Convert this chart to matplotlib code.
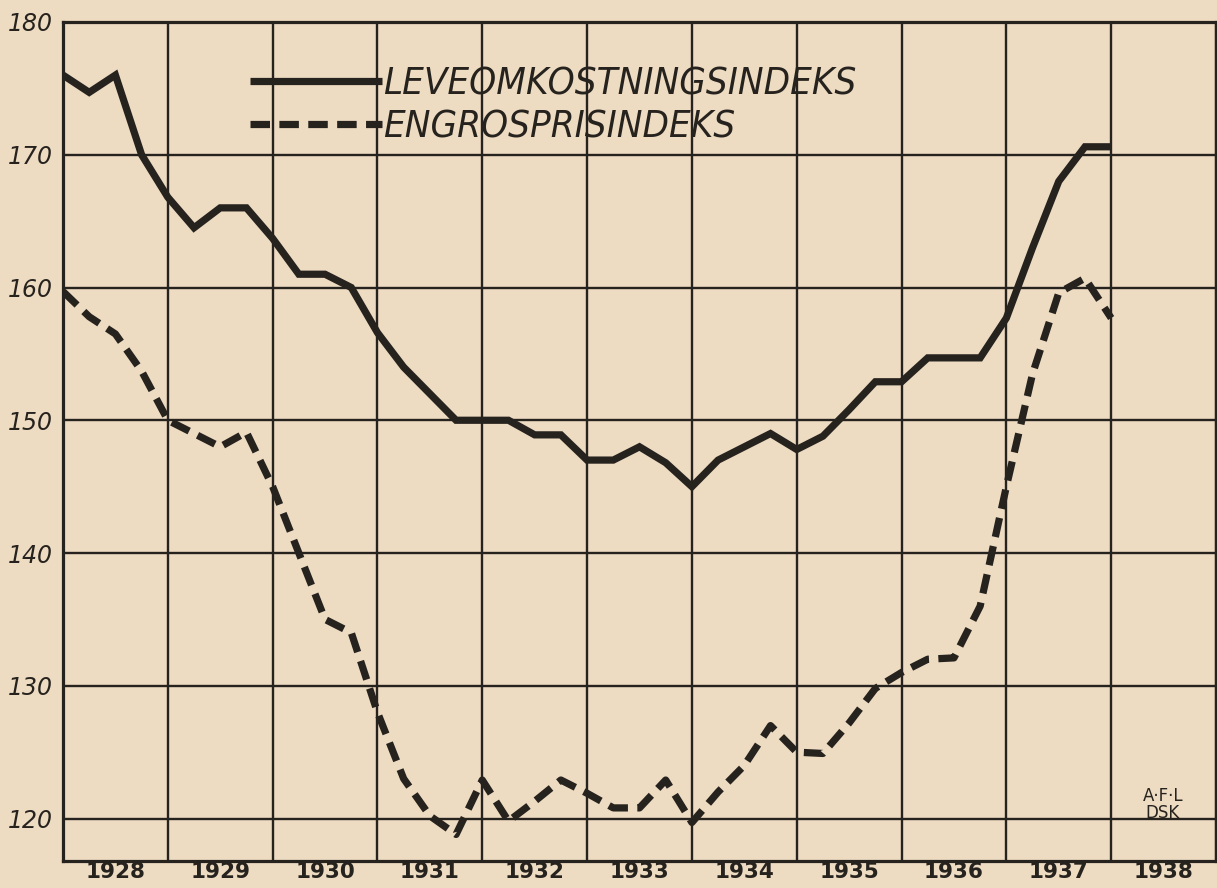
import matplotlib
matplotlib.use("Agg")
import matplotlib.pyplot as plt
import numpy as np

# ---- data ----
years = list(range(1928, 1939))
quarters = np.arange(1928.0, 1938.01, 0.25)  # quarterly observations 1928.0 .. 1938.0
leveomkostning = [176, 174.7, 176, 170, 166.8, 164.5, 166, 166, 163.7, 161, 161, 160,
                  156.6, 154, 152, 150, 150, 150, 148.9, 148.9, 147, 147, 148, 146.8,
                  145, 147, 148, 149, 147.8, 148.8, 150.8, 152.9, 152.9, 154.7, 154.7, 154.7,
                  157.7, 163, 168, 170.6, 170.6]
engros = [159.7, 157.8, 156.5, 153.7, 150, 149, 148, 149.1, 145, 140, 135, 134,
          128, 123, 120.2, 118.8, 122.9, 119.8, 121.3, 122.9, 121.9, 120.8, 120.8, 122.9,
          119.7, 122, 124, 127, 125, 124.9, 127.2, 129.8, 131, 132, 132.1, 136,
          145, 153.5, 159.6, 160.7, 157.7]
yticks = [120, 130, 140, 150, 160, 170, 180]
labels = ["LEVEOMKOSTNINGSINDEKS", "ENGROSPRISINDEKS"]

paper = "#EDDBC2"
ink = "#26221d"

W, H = 1217, 888
fig = plt.figure(figsize=(W / 100, H / 100), dpi=100, facecolor=paper)
ax = fig.add_axes([63 / W, 27 / H, 1153 / W, 839 / H], facecolor=paper)
ax.set_xlim(1928, 1939)
ax.set_ylim(116.8, 180)

# grid
ax.set_xticks(years + [1939])
ax.set_xticklabels([])
ax.set_xticks([y + 0.5 for y in years], minor=True)
ax.set_xticklabels([str(y) for y in years], minor=True,
                   fontsize=15.5, fontweight="bold", color=ink)
ax.set_yticks(yticks)
ax.set_yticklabels([str(v) for v in yticks], fontsize=17, fontstyle="italic", color=ink)
ax.tick_params(which="both", length=0)
ax.tick_params(axis="x", which="minor", pad=0.5)
ax.tick_params(axis="y", pad=7)
ax.grid(True, which="major", color=ink, lw=1.7)
ax.set_axisbelow(True)
for s in ax.spines.values():
    s.set_color(ink)
    s.set_linewidth(2.3)

l1, = ax.plot(quarters, leveomkostning, color=ink, lw=5.2,
              solid_joinstyle="miter", solid_capstyle="butt", label=labels[0])
l2, = ax.plot(quarters, engros, color=ink, lw=5.2, linestyle=(0, (2.7, 1.3)),
              dash_capstyle="butt", label=labels[1])

leg = ax.legend(handles=[l1, l2], loc="upper left", bbox_to_anchor=(0.162, 0.947),
                frameon=False, borderpad=0, borderaxespad=0, handlelength=3.45,
                handletextpad=0.05, labelspacing=0.19,
                prop={"family": "DejaVu Sans", "style": "italic", "stretch": "condensed",
                      "size": 27.5})
for t in leg.get_texts():
    t.set_color(ink)

ax.text(0.954, 0.047, "A·F·L\nDSK", transform=ax.transAxes, ha="center", va="bottom",
        fontsize=12, color=ink, linespacing=0.9)

fig.savefig("out.png", dpi=100, facecolor=paper)
